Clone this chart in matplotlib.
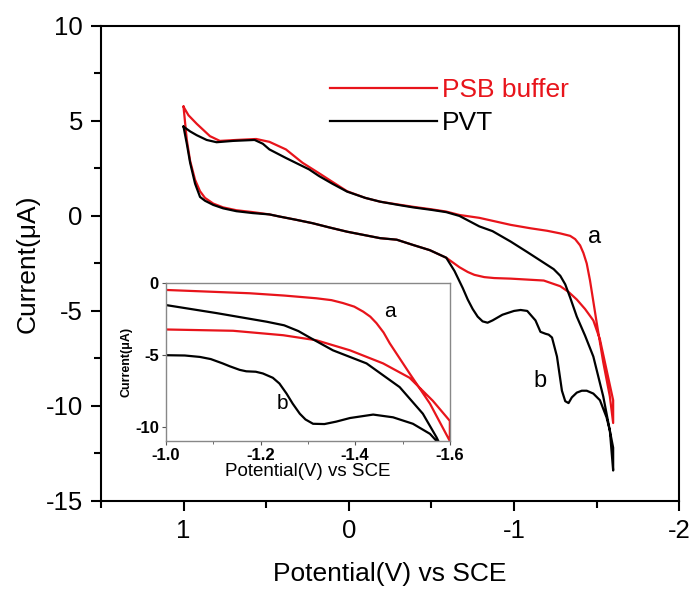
import matplotlib
matplotlib.use('Agg')
import matplotlib.pyplot as plt
from matplotlib.ticker import MultipleLocator

plt.rcParams['font.family'] = ['Liberation Sans', 'DejaVu Sans']

RED = '#e8141b'

# main CV curves: forward sweep 1 -> -1.6 V then back to 1 V
psb_x = [1.00, 0.97, 0.92, 0.84, 0.78, 0.68, 0.56, 0.48, 0.38, 0.28, 0.18, 0.10, 0.01,
         -0.10, -0.19, -0.30, -0.39, -0.50, -0.59, -0.67, -0.79, -0.98, -1.10, -1.20,
         -1.28, -1.34, -1.37, -1.40, -1.42, -1.44, -1.46, -1.50, -1.54, -1.58, -1.60,
         -1.60, -1.58, -1.56, -1.52, -1.48, -1.43, -1.38, -1.33, -1.28, -1.18, -1.08,
         -0.98, -0.88, -0.82, -0.76, -0.72, -0.67, -0.59, -0.49, -0.39, -0.29, -0.19,
         -0.09, 0.01, 0.12, 0.22, 0.32, 0.42, 0.48, 0.58, 0.68, 0.76, 0.82, 0.87, 0.90,
         0.93, 0.96, 0.98, 1.00]
psb_y = [5.75, 5.30, 4.85, 4.20, 3.95, 4.00, 4.05, 3.90, 3.50, 2.80, 2.25, 1.80, 1.30,
         0.95, 0.75, 0.60, 0.48, 0.35, 0.23, 0.05, -0.10, -0.47, -0.65, -0.78,
         -0.92, -1.05, -1.22, -1.55, -1.95, -2.50, -3.40, -5.60, -7.70, -9.50, -10.90,
         -9.70, -8.90, -8.10, -6.50, -5.50, -4.90, -4.40, -4.00, -3.70, -3.40, -3.35,
         -3.30, -3.27, -3.22, -3.10, -2.95, -2.70, -2.20, -1.80, -1.53, -1.25, -1.17,
         -1.00, -0.83, -0.60, -0.38, -0.20, -0.03, 0.08, 0.20, 0.30, 0.45, 0.65, 0.95,
         1.30, 1.90, 2.90, 4.00, 5.75]

pvt_x = [1.00, 0.96, 0.92, 0.86, 0.80, 0.70, 0.57, 0.52, 0.48, 0.38, 0.24, 0.18, 0.10,
         0.01, -0.10, -0.19, -0.30, -0.39, -0.50, -0.59, -0.67, -0.79, -0.87, -0.98,
         -1.08, -1.16, -1.24, -1.28, -1.31, -1.34, -1.38, -1.43, -1.48, -1.54, -1.58,
         -1.60, -1.60, -1.58, -1.56, -1.52, -1.48, -1.44, -1.41, -1.38, -1.35, -1.33,
         -1.31, -1.29, -1.26, -1.23, -1.21, -1.19, -1.16, -1.13, -1.08, -1.04, -1.00,
         -0.93, -0.87, -0.84, -0.81, -0.78, -0.75, -0.72, -0.69, -0.64, -0.59, -0.49,
         -0.39, -0.29, -0.19, -0.09, 0.01, 0.12, 0.22, 0.32, 0.42, 0.48, 0.58, 0.68,
         0.76, 0.82, 0.87, 0.90, 0.93, 0.96, 0.98, 1.00]
pvt_y = [4.70, 4.45, 4.25, 4.00, 3.88, 3.95, 4.00, 3.80, 3.50, 3.05, 2.45, 2.10, 1.70,
         1.28, 0.95, 0.75, 0.58, 0.45, 0.32, 0.20, 0.00, -0.55, -0.80, -1.35,
         -1.90, -2.35, -2.80, -3.15, -3.60, -4.30, -5.30, -6.30, -7.40, -9.50, -11.30,
         -13.40, -12.20, -11.30, -10.60, -9.70, -9.35, -9.20, -9.20, -9.30, -9.55, -9.85,
         -9.75, -9.20, -7.40, -6.40, -6.25, -6.20, -6.10, -5.50, -5.00, -4.95, -5.00,
         -5.20, -5.50, -5.62, -5.55, -5.30, -4.90, -4.40, -3.80, -2.90, -2.20, -1.80,
         -1.53, -1.25, -1.17, -1.00, -0.83, -0.60, -0.38, -0.20, -0.03, 0.08, 0.15,
         0.25, 0.40, 0.58, 0.80, 1.00, 1.70, 2.80, 3.80, 4.70]

# inset curves (zoom of -1.0 to -1.6 V)
in_psb_x = [-1.000, -1.100, -1.177, -1.250, -1.318, -1.350, -1.374, -1.398, -1.417,
            -1.432, -1.445, -1.460, -1.473, -1.495, -1.515, -1.558, -1.600,
            -1.600, -1.564, -1.515, -1.459, -1.389, -1.318, -1.248, -1.142, -1.000]
in_psb_y = [-0.49, -0.62, -0.72, -0.88, -1.07, -1.20, -1.40, -1.65, -2.00,
            -2.35, -2.80, -3.45, -4.20, -5.30, -6.30, -8.40, -11.00,
            -9.60, -8.20, -6.60, -5.60, -4.69, -3.99, -3.64, -3.33, -3.24]

in_pvt_x = [-1.000, -1.107, -1.213, -1.250, -1.280, -1.304, -1.353, -1.424, -1.494,
            -1.543, -1.572, -1.580,
            -1.572, -1.558, -1.522, -1.480, -1.438, -1.389, -1.360, -1.335, -1.311,
            -1.295, -1.283, -1.268, -1.255, -1.240, -1.226, -1.205, -1.190, -1.170,
            -1.156, -1.135, -1.120, -1.095, -1.072, -1.040, -1.000]
in_pvt_y = [-1.54, -2.10, -2.70, -2.95, -3.35, -3.80, -4.69, -5.60, -7.25,
            -9.10, -10.75, -11.30,
            -11.00, -10.50, -9.80, -9.35, -9.16, -9.40, -9.65, -9.82, -9.80,
            -9.50, -9.10, -8.40, -7.70, -7.00, -6.60, -6.30, -6.18, -6.15,
            -6.05, -5.80, -5.60, -5.30, -5.15, -5.05, -5.03]

legend_labels = ['PSB buffer', 'PVT']

fig = plt.figure(figsize=(6.91, 5.90), dpi=100)
ax = fig.add_axes([0.146, 0.151, 0.837, 0.805])

l1, = ax.plot(psb_x, psb_y, color=RED, lw=1.6, label=legend_labels[0])
l2, = ax.plot(pvt_x, pvt_y, color='black', lw=1.6, label=legend_labels[1])

ax.set_xlim(1.5, -2)
ax.set_ylim(-15, 10)
ax.set_xticks([1, 0, -1, -2])
ax.set_xticklabels(['1', '0', '-1', '-2'])
ax.set_yticks([10, 5, 0, -5, -10, -15])
ax.set_yticklabels(['10', '5', '0', '-5', '-10', '-15'])
ax.xaxis.set_minor_locator(MultipleLocator(0.5))
ax.yaxis.set_minor_locator(MultipleLocator(2.5))
ax.tick_params(which='both', direction='out', top=False, right=False, width=1.5,
               labelsize=18.5, pad=6)
ax.tick_params(which='major', length=7)
ax.tick_params(which='minor', length=5)
for s in ax.spines.values():
    s.set_linewidth(1.5)

ax.set_xlabel('Potential(V) vs SCE', fontsize=19, labelpad=14)
ax.set_ylabel('Current(μA)', fontsize=19, labelpad=4)

leg = ax.legend(loc='upper left', bbox_to_anchor=(0.396, 0.89), frameon=False,
                fontsize=19, handlelength=4.05, handletextpad=0.2, borderpad=0,
                borderaxespad=0, labelspacing=0.35)
for txt, line in zip(leg.get_texts(), [l1, l2]):
    txt.set_color(line.get_color())

ax.text(-1.45, -1.1, 'a', fontsize=17, ha='left', va='center')
ax.text(-1.16, -8.7, 'b', fontsize=17, ha='center', va='center')

# inset
ins = fig.add_axes([0.240, 0.2525, 0.411, 0.268])
ins.plot(in_psb_x, in_psb_y, color=RED, lw=1.6)
ins.plot(in_pvt_x, in_pvt_y, color='black', lw=1.6)
ins.set_xlim(-1.0, -1.6)
ins.set_ylim(-11, 0)
ins.set_xticks([-1.0, -1.2, -1.4, -1.6])
ins.set_xticklabels(['-1.0', '-1.2', '-1.4', '-1.6'])
ins.xaxis.set_minor_locator(MultipleLocator(0.1))
ins.set_yticks([0, -5, -10])
ins.set_yticklabels(['0', '-5', '-10'])
ins.tick_params(which='both', direction='out', top=False, right=False, labelsize=12,
                pad=2, color='#555555')
ins.tick_params(which='major', length=3)
ins.tick_params(which='minor', length=2)
for lab in ins.get_xticklabels() + ins.get_yticklabels():
    lab.set_fontweight('bold')
for s in ins.spines.values():
    s.set_edgecolor('#888888')
    s.set_linewidth(1.0)
ins.set_xlabel('Potential(V) vs SCE', fontsize=13.5, labelpad=0)
ins.set_ylabel('Current(μA)', fontsize=9, fontweight='bold', labelpad=2)
ins.text(-1.473, -2.0, 'a', fontsize=15, ha='center', va='center')
ins.text(-1.247, -8.4, 'b', fontsize=15, ha='center', va='center')

fig.savefig('out.png', dpi=100)
